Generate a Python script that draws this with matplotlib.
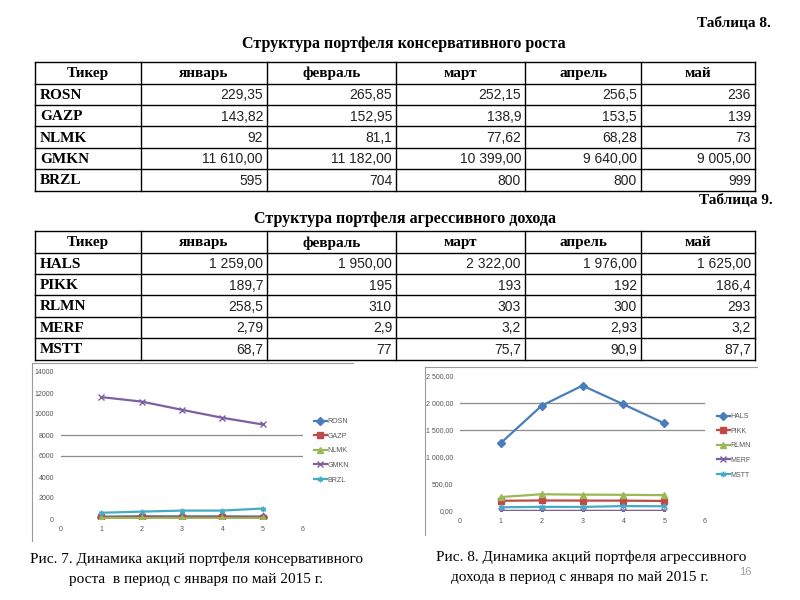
import matplotlib
matplotlib.use("Agg")
import matplotlib.pyplot as plt
from matplotlib.lines import Line2D

# ---------------- data ----------------
months = ["январь", "февраль", "март", "апрель", "май"]
x_idx = [1, 2, 3, 4, 5]

tickers_cons = ["ROSN", "GAZP", "NLMK", "GMKN", "BRZL"]
rosn = [229.35, 265.85, 252.15, 256.5, 236]
gazp = [143.82, 152.95, 138.9, 153.5, 139]
nlmk = [92, 81.1, 77.62, 68.28, 73]
gmkn = [11610, 11182, 10399, 9640, 9005]
brzl = [595, 704, 800, 800, 999]

tickers_aggr = ["HALS", "PIKK", "RLMN", "MERF", "MSTT"]
hals = [1259, 1950, 2322, 1976, 1625]
pikk = [189.7, 195, 193, 192, 186.4]
rlmn = [258.5, 310, 303, 300, 293]
merf = [2.79, 2.9, 3.2, 2.93, 3.2]
mstt = [68.7, 77, 75.7, 90.9, 87.7]

# displayed cell texts (as in the source table)
cells_cons = [
    ["229,35", "265,85", "252,15", "256,5", "236"],
    ["143,82", "152,95", "138,9", "153,5", "139"],
    ["92", "81,1", "77,62", "68,28", "73"],
    ["11 610,00", "11 182,00", "10 399,00", "9 640,00", "9 005,00"],
    ["595", "704", "800", "800", "999"],
]
cells_aggr = [
    ["1 259,00", "1 950,00", "2 322,00", "1 976,00", "1 625,00"],
    ["189,7", "195", "193", "192", "186,4"],
    ["258,5", "310", "303", "300", "293"],
    ["2,79", "2,9", "3,2", "2,93", "3,2"],
    ["68,7", "77", "75,7", "90,9", "87,7"],
]

left_yticks = [0, 2000, 4000, 6000, 8000, 10000, 12000, 14000]
left_ylabels = ["0", "2000", "4000", "6000", "8000", "10000", "12000", "14000"]
right_yticks = [0, 500, 1000, 1500, 2000, 2500]
right_ylabels = ["0,00", "500,00", "1 000,00", "1 500,00", "2 000,00", "2 500,00"]
xticks = [0, 1, 2, 3, 4, 5, 6]

colors = ["#4A7EBB", "#BE4B48", "#98B954", "#7D60A0", "#46AAC5"]
markers = ["D", "s", "^", "x", (6, 2, 0)]

# ---------------- figure ----------------
W, H = 800, 600
fig = plt.figure(figsize=(8, 6), dpi=100)
bg = fig.add_axes([0, 0, 1, 1])
bg.set_xlim(0, W)
bg.set_ylim(H, 0)
bg.axis("off")

SERIF = ["Liberation Serif", "DejaVu Serif"]
SANS = ["Liberation Sans Narrow", "Liberation Sans", "DejaVu Sans"]


def draw_table(top, col_x, row_h, header_h, tickers, cells):
    n_rows = len(tickers)
    ys = [top, top + header_h] + [top + header_h + row_h * (i + 1) for i in range(n_rows)]
    for y in ys:
        bg.plot([col_x[0], col_x[-1]], [y, y], color="black", lw=1.0)
    for x in col_x:
        bg.plot([x, x], [ys[0], ys[-1]], color="black", lw=1.0)
    # header
    heads = ["Тикер"] + months
    for j, h in enumerate(heads):
        bg.text((col_x[j] + col_x[j + 1]) / 2, (ys[0] + ys[1]) / 2 + 1, h,
                ha="center", va="center", family=SERIF, weight="bold", fontsize=11)
    for i, t in enumerate(tickers):
        yc = (ys[i + 1] + ys[i + 2]) / 2 + 1
        bg.text(col_x[0] + 5, yc, t, ha="left", va="center", family=SERIF,
                weight="bold", fontsize=11)
        for j, v in enumerate(cells[i]):
            bg.text(col_x[j + 2] - 4, yc, v, ha="right", va="center",
                    family=SANS, fontsize=10, color="#222222")


col_x = [35, 141, 267, 396, 525, 641, 755]
bg.text(771, 23, "Таблица 8.", ha="right", va="center", family=SERIF,
        weight="bold", fontsize=11)
bg.text(404, 44, "Структура портфеля консервативного роста", ha="center",
        va="center", family=SERIF, weight="bold", fontsize=11.5)
draw_table(62, col_x, 21.4, 21.5, tickers_cons, cells_cons)

bg.text(773, 200, "Таблица 9.", ha="right", va="center", family=SERIF,
        weight="bold", fontsize=11)
bg.text(405, 219, "Структура портфеля агрессивного дохода", ha="center",
        va="center", family=SERIF, weight="bold", fontsize=11.5)
draw_table(231, col_x, 21.4, 21.5, tickers_aggr, cells_aggr)

# chart frames
bg.plot([32, 353], [363, 363], color="#9a9a9a", lw=0.8)
bg.plot([32, 32], [363, 541], color="#9a9a9a", lw=0.8)
bg.plot([425, 757], [367, 367], color="#9a9a9a", lw=0.8)
bg.plot([425, 425], [367, 535], color="#9a9a9a", lw=0.8)

# captions
bg.text(196, 559, "Рис. 7. Динамика акций портфеля консервативного", ha="center",
        va="center", family=SERIF, fontsize=11)
bg.text(196, 579, "роста  в период с января по май 2015 г.", ha="center",
        va="center", family=SERIF, fontsize=11)
bg.text(591, 557, "Рис. 8. Динамика акций портфеля агрессивного", ha="center",
        va="center", family=SERIF, fontsize=11)
bg.text(580, 577, "дохода в период с января по май 2015 г.", ha="center",
        va="center", family=SERIF, fontsize=11)
bg.text(745, 572, "16", ha="center", va="center", family=["Liberation Sans"],
        fontsize=8, color="#a0a0a0")


def fig_rect(x0, x1, y_top, y_bot):
    return [x0 / W, 1 - y_bot / H, (x1 - x0) / W, (y_bot - y_top) / H]


def make_chart(rect, series, names, yt, ylab, ymax, grid_vals, leg_xy):
    ax = fig.add_axes(rect)
    ax.set_xlim(0, 6)
    ax.set_ylim(0, ymax)
    for v in grid_vals:
        ax.axhline(v, color="#8c8c8c", lw=0.9, zorder=0)
    handles = []
    for s, n, c, m in zip(series, names, colors, markers):
        ln, = ax.plot(x_idx, s, color=c, lw=1.6, marker=m, ms=4,
                      markeredgecolor=c, markerfacecolor=c, mew=1.0)
        handles.append(ln)
    for sp in ax.spines.values():
        sp.set_visible(False)
    ax.set_xticks(xticks)
    ax.set_xticklabels([str(t) for t in xticks])
    ax.set_yticks(yt)
    ax.set_yticklabels(ylab)
    ax.tick_params(length=0, labelsize=5, labelcolor="#555555", pad=5)
    for lab in ax.get_xticklabels() + ax.get_yticklabels():
        lab.set_family(["Liberation Sans"])
    ax.patch.set_alpha(0)
    leg = ax.legend(handles, names, loc="upper left",
                    bbox_to_anchor=(leg_xy[0] / W, 1 - leg_xy[1] / H),
                    bbox_transform=fig.transFigure, frameon=False,
                    fontsize=5, handlelength=1.8, handletextpad=0.15,
                    labelspacing=1.1, borderpad=0, borderaxespad=0)
    for t in leg.get_texts():
        t.set_color("#555555")
        t.set_family(["Liberation Sans"])
    return ax


make_chart(fig_rect(61, 303, 372, 519), [rosn, gazp, nlmk, gmkn, brzl],
           tickers_cons, left_yticks, left_ylabels, 14000, [6000, 8000], (314, 418))
make_chart(fig_rect(460, 705, 376, 511), [hals, pikk, rlmn, merf, mstt],
           tickers_aggr, right_yticks, right_ylabels, 2500, [1500, 2000], (717, 413))

fig.savefig("out.png", dpi=100)
